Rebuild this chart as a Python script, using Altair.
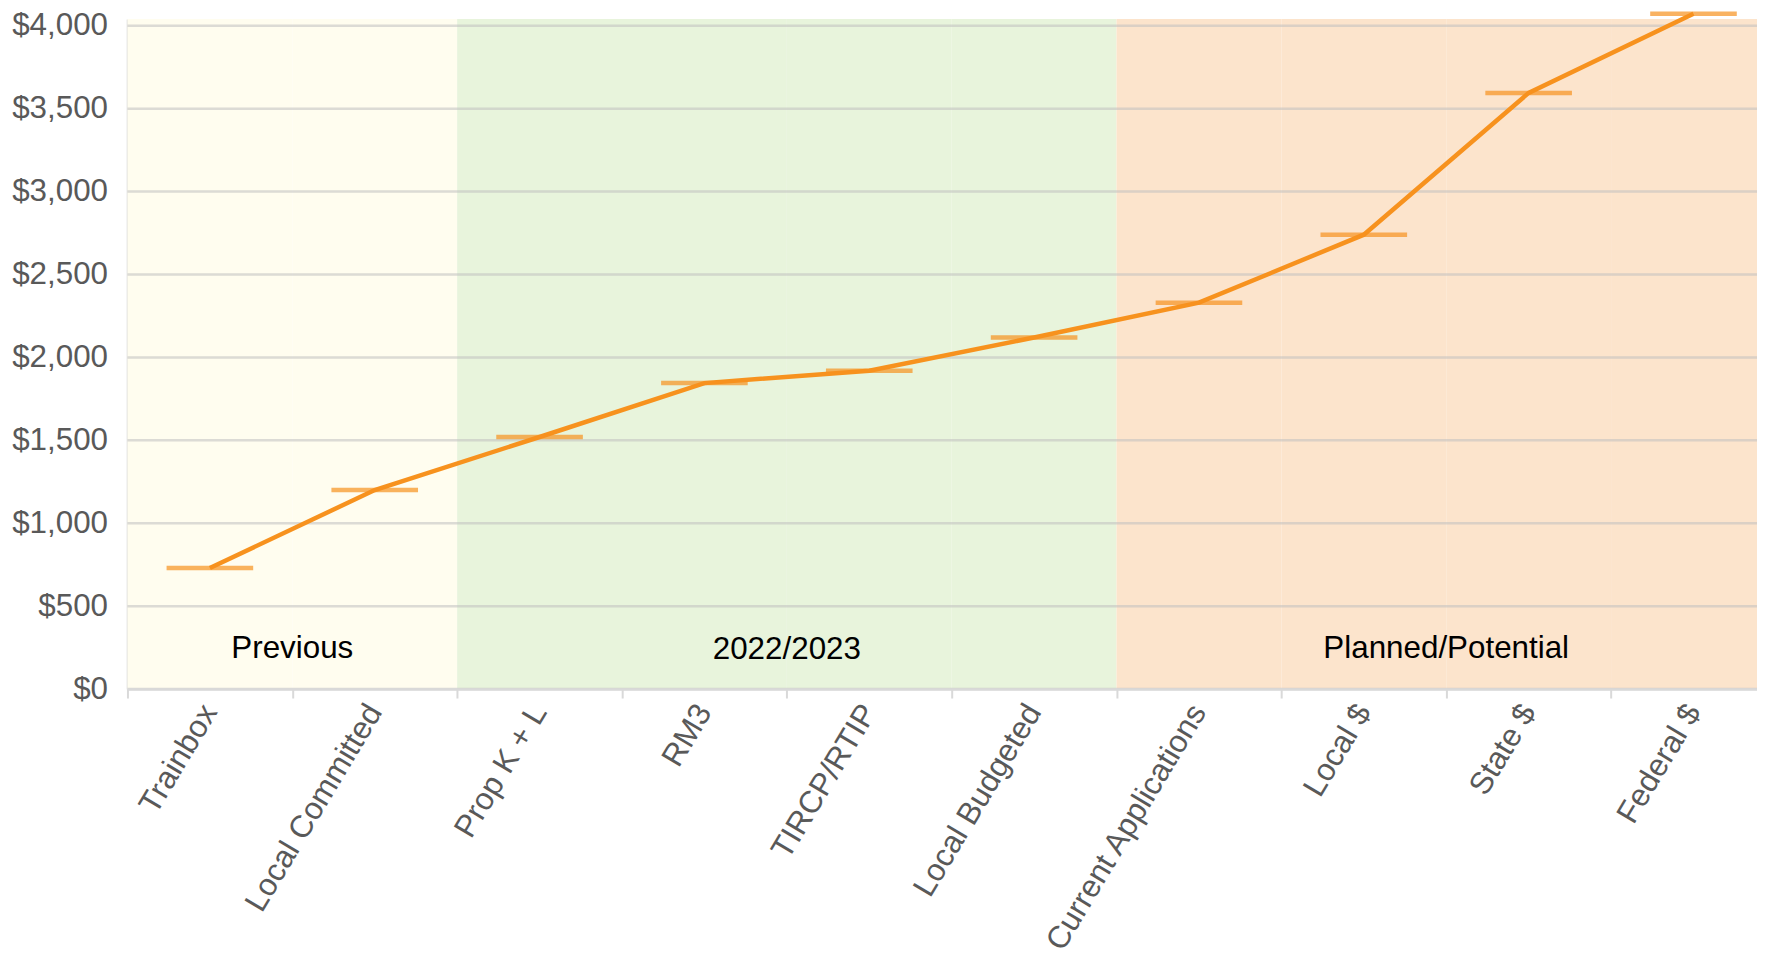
import altair as alt
import pandas as pd

categories = ["Trainbox", "Local Committed", "Prop K + L", "RM3", "TIRCP/RTIP",
              "Local Budgeted", "Current Applications", "Local $", "State $", "Federal $"]
values = [730, 1200, 1520, 1845, 1920, 2120, 2330, 2740, 3595, 4072]
cat_groups = ["Previous", "Previous", "2022/2023", "2022/2023", "2022/2023",
              "2022/2023", "Planned/Potential", "Planned/Potential", "Planned/Potential",
              "Planned/Potential"]
group_names = ["Previous", "2022/2023", "Planned/Potential"]
group_colors = ["#FFFDEF", "#E8F4DC", "#FCE4CC"]
group_label_at = ["Local Committed", "TIRCP/RTIP", "State $"]
group_label_y = [239, 236, 239]
y_ticks = [0, 500, 1000, 1500, 2000, 2500, 3000, 3500, 4000]
y_top = 4040

FONT = "Liberation Sans"
FS = 31.5
XFS = 31.5
LINE = "#F7921E"
GRID = "#D9D9D9"
LABEL = "#595959"

df = pd.DataFrame({"category": categories, "value": values, "group": cat_groups,
                   "lo": [0] * len(categories), "hi": [y_top] * len(categories)})
grid_df = pd.DataFrame({"tick": y_ticks})
lab_df = pd.DataFrame({"at": group_label_at, "name": group_names, "y": group_label_y})

xscale = alt.Scale(domain=categories, paddingInner=0, paddingOuter=0)
yscale = alt.Scale(domain=[0, y_top], nice=False)
xaxis = alt.Axis(labelAngle=-59, tickBand="extent", tickColor=GRID, tickWidth=2, tickSize=9,
                 domainColor=GRID, domainWidth=2.5, labelFontSize=XFS, labelColor=LABEL,
                 labelFont=FONT, labelPadding=9, labelLimit=600, title=None)
yaxis = alt.Axis(values=y_ticks, format="$,.0f", grid=False, ticks=False, domainColor=GRID,
                 domainWidth=2.5, labelFontSize=FS, labelColor=LABEL, labelPadding=20,
                 labelFont=FONT, title=None)

bands = alt.Chart(df).mark_rect().encode(
    x=alt.X("category:N", scale=xscale, sort=categories, axis=xaxis),
    y=alt.Y("hi:Q", scale=yscale, axis=yaxis),
    y2="lo:Q",
    color=alt.Color("group:N", scale=alt.Scale(domain=group_names, range=group_colors), legend=None),
)

grid = alt.Chart(grid_df).mark_rule(color="#BFBFBF", opacity=0.55, strokeWidth=2.5).encode(
    y=alt.Y("tick:Q", scale=yscale, axis=yaxis)
)

labels = alt.Chart(lab_df).mark_text(fontSize=FS, font=FONT, color="black",
                                     align="center", baseline="middle").encode(
    x=alt.X("at:N", scale=xscale, sort=categories, axis=xaxis, bandPosition=0),
    y=alt.Y("y:Q", scale=yscale, axis=yaxis),
    text="name:N",
)

line = alt.Chart(df).mark_line(color=LINE, strokeWidth=4.5).encode(
    x=alt.X("category:N", scale=xscale, sort=categories, axis=xaxis),
    y=alt.Y("value:Q", scale=yscale, axis=yaxis),
)

ticks = alt.Chart(df).mark_tick(color=LINE, size=87, thickness=4.5).encode(
    x=alt.X("category:N", scale=xscale, sort=categories, axis=xaxis),
    y=alt.Y("value:Q", scale=yscale, axis=yaxis),
)

chart = alt.layer(bands, grid, labels, line, ticks).properties(
    width=1656, height=673,
    autosize=alt.AutoSizeParams(type="none"),
    padding={"left": 120, "top": 9, "right": -19, "bottom": 268},
).configure_view(stroke=None)

chart.save("out.html", embed_options={"renderer": "svg", "actions": False})
